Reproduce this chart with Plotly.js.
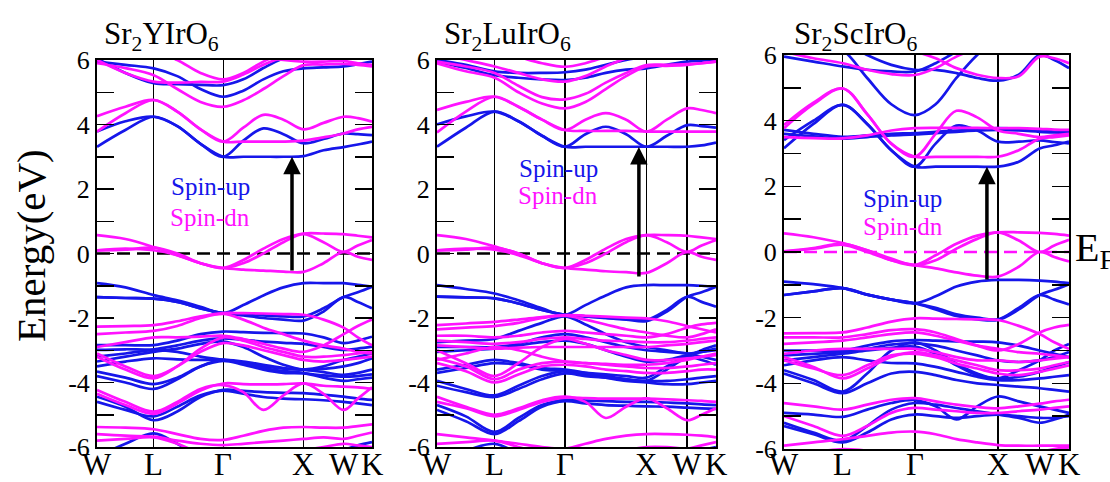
<!DOCTYPE html>
<html>
<head>
<meta charset="utf-8">
<script src="https://cdn.plot.ly/plotly-3.0.1.min.js"></script>
<style>html,body{margin:0;padding:0;background:#fff;}#chart{width:1110px;height:482px;}</style>
</head>
<body>
<div id="chart"></div>
<script>
// k-path W-L-Γ-X-W-K (units of 2π/a, cumulative distance)
const kPts = [0, 0.354, 0.707, 1.0, 1.29, 1.573, 1.823, 2.073, 2.323, 2.573, 2.823, 3.073, 3.25, 3.427];
const kTickVals = [0, 0.707, 1.573, 2.573, 3.073, 3.427];
const kTickText = ['W', 'L', 'Γ', 'X', 'W', 'K'];
const eTickVals = [-6, -4, -2, 0, 2, 4, 6];
const eTickText = ['-6', '-4', '-2', '0', '2', '4', '6'];
const eMinorVals = [-5, -3, -1, 1, 3, 5];
const titles = ['Sr<sub>2</sub>YIrO<sub>6</sub>', 'Sr<sub>2</sub>LuIrO<sub>6</sub>', 'Sr<sub>2</sub>ScIrO<sub>6</sub>'];
const legendUp = 'Spin-up';
const legendDn = 'Spin-dn';
const fermiE = [0, 0];
// arrows: [k, E_from, E_to]
const arrowK = [2.43, 2.48, 2.44];
const arrowFrom = [-0.57, -0.76, -0.88];
const arrowTo = [3.0, 3.3, 2.6];

// ---- Sr2YIrO6 ----
const srY_up = [
  [3.31, 3.83, 4.24, 3.95, 3.4, 3.0, 3.0, 3.0, 3.0, 3.02, 3.2, 3.3, 3.38, 3.47],
  [3.78, 4.1, 4.24, 3.95, 3.4, 3.0, 3.5, 3.88, 3.7, 3.42, 3.55, 3.72, 3.7, 3.67],
  [5.95, 5.85, 5.74, 5.5, 5.1, 4.86, 5.05, 5.4, 5.65, 5.74, 5.77, 5.8, 5.87, 5.95],
  [6.05, 5.6, 5.28, 5.25, 5.23, 5.22, 5.4, 5.75, 6.05, 6.2, 6.2, 6.2, 6.2, 6.2],
  [-0.92, -1.05, -1.29, -1.45, -1.65, -1.85, -1.6, -1.3, -1.05, -0.92, -0.92, -0.92, -0.97, -1.03],
  [-1.35, -1.38, -1.4, -1.5, -1.7, -1.85, -1.92, -2.0, -2.05, -2.08, -1.8, -1.35, -1.5, -1.7],
  [-1.35, -1.38, -1.4, -1.5, -1.7, -1.85, -1.88, -1.92, -1.95, -1.95, -1.7, -1.35, -1.2, -1.03],
  [-2.84, -2.84, -2.84, -2.7, -2.5, -2.42, -2.44, -2.46, -2.47, -2.48, -2.6, -2.78, -2.7, -2.58],
  [-2.99, -2.97, -2.97, -2.85, -2.7, -2.63, -2.68, -2.73, -2.77, -2.8, -2.9, -2.99, -2.95, -2.89],
  [-3.35, -3.2, -3.05, -2.95, -2.8, -2.73, -2.9, -3.2, -3.45, -3.6, -3.58, -3.5, -3.4, -3.25],
  [-3.5, -3.35, -3.25, -3.28, -3.3, -3.3, -3.35, -3.45, -3.55, -3.6, -3.68, -3.76, -3.7, -3.6],
  [-3.66, -3.85, -4.05, -3.85, -3.5, -3.33, -3.45, -3.6, -3.7, -3.72, -3.78, -3.82, -3.8, -3.75],
  [-3.2, -3.1, -3.0, -3.05, -3.2, -3.3, -3.4, -3.5, -3.57, -3.6, -3.5, -3.3, -3.2, -3.1],
  [-3.8, -4.0, -4.2, -3.9, -3.5, -3.3, -3.4, -3.55, -3.65, -3.7, -3.85, -3.95, -3.9, -3.85],
  [-4.44, -4.75, -5.17, -4.9, -4.45, -4.23, -4.26, -4.3, -4.32, -4.33, -4.38, -4.44, -4.5, -4.54],
  [-4.6, -4.85, -5.05, -4.75, -4.4, -4.25, -4.35, -4.45, -4.5, -4.52, -4.55, -4.6, -4.65, -4.7],
  [-6.3, -5.9, -5.58, -5.9, -6.3, -6.5, -6.5, -6.5, -6.5, -6.5, -6.4, -6.1, -5.95, -5.85]
];
const srY_dn = [
  [4.26, 4.55, 4.76, 4.4, 3.85, 3.47, 3.47, 3.47, 3.47, 3.5, 3.6, 3.72, 3.85, 3.93],
  [3.78, 4.35, 4.76, 4.4, 3.85, 3.47, 3.9, 4.3, 4.15, 3.85, 4.05, 4.24, 4.2, 4.09],
  [5.9, 5.75, 5.53, 5.1, 4.7, 4.55, 4.75, 5.1, 5.5, 5.84, 5.86, 5.88, 5.85, 5.8],
  [6.0, 5.6, 5.33, 5.3, 5.32, 5.33, 5.55, 5.85, 6.1, 6.3, 6.3, 6.3, 6.3, 6.3],
  [6.5, 6.4, 6.3, 6.0, 5.6, 5.4, 5.6, 5.95, 6.2, 6.3, 6.3, 6.3, 6.3, 6.3],
  [6.3, 6.3, 6.3, 6.3, 6.3, 6.3, 6.25, 6.1, 6.0, 5.95, 5.95, 5.97, 5.9, 5.85],
  [0.57, 0.45, 0.2, -0.05, -0.3, -0.45, -0.2, 0.15, 0.45, 0.62, 0.62, 0.6, 0.55, 0.5],
  [0.1, 0.15, 0.1, -0.05, -0.3, -0.45, -0.5, -0.53, -0.56, -0.57, -0.3, 0.05, -0.1, -0.2],
  [0.1, 0.12, 0.18, 0.0, -0.3, -0.45, -0.3, 0.0, 0.35, 0.6, 0.35, 0.05, 0.25, 0.42],
  [-2.27, -2.25, -2.22, -2.1, -1.95, -1.85, -1.85, -1.86, -1.88, -1.9, -2.05, -2.3, -2.6, -2.85],
  [-2.5, -2.45, -2.4, -2.25, -2.0, -1.87, -2.05, -2.3, -2.5, -2.7, -2.85, -2.95, -3.05, -3.1],
  [-2.9, -2.75, -2.6, -2.6, -2.58, -2.55, -2.65, -2.8, -2.95, -3.05, -2.85, -2.5, -2.25, -2.05],
  [-3.2, -3.6, -3.87, -3.5, -2.95, -2.6, -2.7, -2.9, -3.05, -3.2, -3.2, -3.15, -3.1, -3.05],
  [-3.1, -3.5, -3.8, -3.5, -3.05, -2.78, -2.85, -3.0, -3.15, -3.3, -3.35, -3.3, -3.25, -3.2],
  [-4.23, -4.6, -4.9, -4.6, -4.2, -4.08, -4.3, -4.85, -4.4, -4.03, -4.35, -4.85, -4.5, -4.15],
  [-4.35, -4.7, -4.97, -4.65, -4.25, -4.03, -4.05, -4.06, -4.05, -4.03, -4.1, -4.13, -4.15, -4.2],
  [-5.38, -5.4, -5.45, -5.6, -5.75, -5.78, -5.65, -5.5, -5.4, -5.38, -5.4, -5.4, -5.35, -5.3],
  [-5.6, -5.65, -5.68, -5.8, -5.9, -5.94, -5.9, -5.85, -5.8, -5.75, -5.7, -5.75, -5.65, -5.55],
  [-5.8, -5.75, -5.7, -5.9, -6.2, -6.4, -6.4, -6.3, -6.2, -6.1, -6.0, -5.9, -5.95, -6.0]
];

// ---- Sr2LuIrO6 ----
const srLu_up = [
  [3.31, 3.9, 4.4, 4.1, 3.65, 3.31, 3.31, 3.31, 3.31, 3.31, 3.31, 3.31, 3.35, 3.44],
  [4.0, 4.25, 4.4, 4.1, 3.65, 3.31, 3.7, 3.93, 3.7, 3.31, 3.65, 3.98, 3.95, 3.9],
  [5.95, 5.75, 5.53, 5.45, 5.4, 5.38, 5.45, 5.6, 5.7, 5.74, 5.85, 5.95, 5.98, 6.0],
  [6.0, 5.85, 5.65, 5.6, 5.6, 5.62, 5.7, 5.85, 6.0, 6.1, 6.1, 6.1, 6.1, 6.1],
  [-0.98, -1.1, -1.24, -1.45, -1.7, -1.9, -1.6, -1.3, -1.05, -0.98, -0.98, -0.98, -1.0, -1.03],
  [-1.34, -1.36, -1.39, -1.55, -1.75, -1.9, -1.95, -2.0, -2.03, -2.06, -1.75, -1.34, -1.5, -1.65],
  [-1.34, -1.36, -1.39, -1.55, -1.75, -1.9, -1.95, -2.0, -2.05, -2.1, -1.8, -1.34, -1.2, -1.03],
  [-2.75, -2.7, -2.65, -2.4, -2.15, -1.95, -2.2, -2.5, -2.75, -2.9, -3.0, -3.1, -3.05, -3.0],
  [-2.9, -2.9, -2.9, -2.8, -2.6, -2.5, -2.6, -2.75, -2.9, -3.0, -3.05, -3.1, -3.2, -3.3],
  [-3.05, -3.0, -2.95, -2.85, -2.75, -2.7, -2.8, -3.0, -3.2, -3.35, -3.3, -3.15, -3.05, -2.95],
  [-3.6, -3.45, -3.3, -3.4, -3.55, -3.6, -3.7, -3.8, -3.9, -3.95, -3.95, -3.9, -3.85, -3.8],
  [-3.7, -3.55, -3.4, -3.45, -3.6, -3.65, -3.75, -3.85, -3.95, -4.0, -4.05, -4.05, -4.0, -3.95],
  [-3.95, -4.2, -4.4, -4.1, -3.8, -3.65, -3.7, -3.75, -3.8, -3.85, -3.5, -3.2, -3.3, -3.45],
  [-4.1, -4.3, -4.45, -4.2, -3.9, -3.72, -3.8, -3.85, -3.9, -3.95, -3.6, -3.2, -3.0, -2.85],
  [-4.7, -5.05, -5.53, -5.1, -4.7, -4.54, -4.56, -4.58, -4.6, -4.6, -4.62, -4.65, -4.68, -4.7],
  [-4.85, -5.2, -5.6, -5.2, -4.75, -4.58, -4.65, -4.7, -4.72, -4.74, -4.75, -4.78, -4.8, -4.82],
  [-6.3, -6.1, -5.9, -6.2, -6.5, -6.5, -6.5, -6.5, -6.5, -6.5, -6.4, -6.2, -6.1, -6.0]
];
const srLu_dn = [
  [4.45, 4.7, 4.86, 4.55, 4.15, 3.83, 3.8, 3.8, 3.8, 3.78, 3.78, 3.78, 3.78, 3.78],
  [3.75, 4.4, 4.86, 4.55, 4.15, 3.83, 4.15, 4.35, 4.15, 3.78, 4.15, 4.5, 4.45, 4.35],
  [5.95, 5.8, 5.6, 5.2, 4.85, 4.78, 4.95, 5.3, 5.6, 5.84, 5.85, 5.87, 5.9, 5.95],
  [5.9, 5.65, 5.45, 5.0, 4.65, 4.5, 4.7, 5.1, 5.5, 5.8, 5.82, 5.85, 5.9, 5.95],
  [6.2, 6.0, 5.8, 5.6, 5.4, 5.33, 5.5, 5.8, 6.05, 6.2, 6.2, 6.2, 6.2, 6.2],
  [6.5, 6.4, 6.3, 6.1, 5.9, 5.79, 5.9, 6.1, 6.3, 6.4, 6.4, 6.4, 6.4, 6.4],
  [0.57, 0.45, 0.22, 0.0, -0.3, -0.45, -0.2, 0.15, 0.45, 0.57, 0.57, 0.55, 0.5, 0.45],
  [0.1, 0.15, 0.12, -0.05, -0.3, -0.45, -0.5, -0.55, -0.58, -0.6, -0.3, 0.05, -0.1, -0.2],
  [0.1, 0.12, 0.18, 0.0, -0.3, -0.45, -0.3, 0.0, 0.35, 0.57, 0.35, 0.05, 0.25, 0.42],
  [-2.22, -2.17, -2.12, -2.05, -1.97, -1.91, -1.93, -1.96, -1.99, -2.01, -2.1, -2.25, -2.35, -2.45],
  [-2.35, -2.3, -2.25, -2.15, -2.0, -1.93, -2.05, -2.2, -2.35, -2.45, -2.55, -2.6, -2.5, -2.35],
  [-2.55, -2.55, -2.6, -2.55, -2.45, -2.4, -2.45, -2.5, -2.55, -2.6, -2.5, -2.3, -2.2, -2.15],
  [-2.7, -2.75, -2.8, -2.75, -2.65, -2.6, -2.65, -2.7, -2.72, -2.75, -2.75, -2.7, -2.65, -2.6],
  [-2.85, -2.9, -2.95, -2.92, -2.9, -2.9, -2.9, -2.9, -2.9, -2.9, -2.85, -2.8, -2.75, -2.7],
  [-3.3, -3.1, -2.9, -3.0, -3.2, -3.35, -3.4, -3.42, -3.45, -3.45, -3.4, -3.3, -3.2, -3.1],
  [-3.25, -3.5, -3.9, -3.6, -3.4, -3.35, -3.4, -3.45, -3.5, -3.55, -3.55, -3.5, -3.45, -3.4],
  [-3.4, -3.65, -4.0, -3.75, -3.5, -3.45, -3.5, -3.6, -3.65, -3.7, -3.7, -3.65, -3.6, -3.6],
  [-3.0, -3.4, -3.8, -3.4, -2.9, -2.65, -2.8, -3.0, -3.15, -3.3, -3.3, -3.25, -3.2, -3.15],
  [-4.44, -4.75, -5.0, -4.8, -4.55, -4.44, -4.6, -5.1, -4.75, -4.49, -4.8, -5.17, -5.0, -4.8],
  [-4.6, -4.8, -5.05, -4.85, -4.6, -4.47, -4.48, -4.5, -4.5, -4.5, -4.52, -4.55, -4.57, -4.6],
  [-5.6, -5.7, -5.8, -5.9, -6.0, -6.05, -5.9, -5.75, -5.65, -5.6, -5.6, -5.62, -5.65, -5.7],
  [-5.9, -5.85, -5.8, -6.0, -6.2, -6.3, -6.3, -6.2, -6.1, -6.0, -6.0, -6.05, -5.95, -5.85]
];

// ---- Sr2ScIrO6 ----
const srSc_up = [
  [3.16, 3.9, 4.48, 3.9, 3.1, 2.6, 2.6, 2.6, 2.6, 2.6, 2.75, 3.15, 3.25, 3.36],
  [3.41, 4.0, 4.48, 3.9, 3.1, 2.6, 3.3, 3.85, 3.7, 3.36, 3.36, 3.4, 3.35, 3.31],
  [3.72, 3.6, 3.51, 3.55, 3.6, 3.62, 3.66, 3.7, 3.73, 3.77, 3.75, 3.72, 3.7, 3.68],
  [3.6, 3.52, 3.45, 3.5, 3.55, 3.58, 3.62, 3.66, 3.7, 3.72, 3.7, 3.66, 3.64, 3.62],
  [5.95, 5.8, 5.65, 5.55, 5.5, 5.5, 5.75, 6.1, 6.4, 6.5, 6.5, 6.5, 6.3, 6.1],
  [6.8, 6.5, 6.15, 5.3, 4.5, 4.17, 4.5, 5.3, 6.0, 6.5, 6.5, 6.5, 6.4, 6.2],
  [6.4, 6.4, 6.4, 6.0, 5.7, 5.55, 5.55, 5.45, 5.3, 5.22, 5.4, 6.0, 5.85, 5.6],
  [-0.9, -0.98, -1.1, -1.3, -1.45, -1.56, -1.35, -1.05, -0.9, -0.85, -0.85, -0.87, -0.9, -0.95],
  [-1.31, -1.2, -1.1, -1.3, -1.45, -1.56, -1.75, -1.95, -2.05, -2.07, -1.75, -1.31, -1.15, -0.98],
  [-1.31, -1.2, -1.1, -1.3, -1.45, -1.56, -1.7, -1.9, -2.0, -2.05, -1.7, -1.31, -1.45, -1.6],
  [-3.0, -3.0, -3.0, -2.85, -2.72, -2.68, -2.7, -2.72, -2.73, -2.75, -2.85, -3.0, -3.1, -3.2],
  [-3.15, -3.1, -3.05, -2.95, -2.82, -2.78, -2.85, -3.0, -3.15, -3.3, -3.35, -3.3, -3.2, -3.05],
  [-3.3, -3.2, -3.1, -3.0, -2.92, -2.88, -3.1, -3.45, -3.75, -3.85, -3.8, -3.65, -3.5, -3.35],
  [-3.45, -3.3, -3.2, -3.3, -3.38, -3.39, -3.5, -3.65, -3.8, -3.9, -3.9, -3.85, -3.8, -3.75],
  [-3.6, -3.9, -4.25, -3.7, -3.0, -2.75, -3.0, -3.4, -3.7, -3.85, -3.6, -3.3, -3.0, -2.8],
  [-3.7, -4.0, -4.3, -4.0, -3.7, -3.65, -3.75, -3.9, -4.0, -4.05, -4.1, -4.15, -4.2, -4.25],
  [-4.9, -4.95, -5.02, -4.8, -4.6, -4.51, -4.7, -5.1, -4.7, -4.4, -4.55, -4.7, -4.8, -4.9],
  [-5.2, -5.5, -5.75, -5.3, -4.8, -4.6, -4.65, -4.75, -4.85, -4.95, -5.05, -5.2, -5.1, -4.95],
  [-5.3, -5.55, -5.8, -5.5, -5.1, -4.95, -5.0, -5.05, -5.0, -4.95, -5.0, -5.05, -5.05, -5.0]
];
const srSc_dn = [
  [3.77, 4.5, 4.98, 4.2, 3.3, 2.9, 2.9, 2.9, 2.9, 2.9, 3.1, 3.45, 3.5, 3.55],
  [3.87, 4.55, 4.98, 4.2, 3.3, 2.9, 3.6, 4.3, 4.1, 3.7, 3.6, 3.5, 3.55, 3.6],
  [3.5, 3.47, 3.46, 3.55, 3.7, 3.77, 3.78, 3.78, 3.78, 3.77, 3.77, 3.75, 3.73, 3.72],
  [6.1, 5.9, 5.75, 5.55, 5.42, 5.39, 5.6, 5.95, 6.2, 6.3, 6.3, 6.3, 6.3, 6.3],
  [6.3, 6.3, 6.3, 6.3, 6.2, 6.1, 5.9, 5.6, 5.4, 5.3, 5.35, 5.95, 5.9, 5.75],
  [0.57, 0.45, 0.27, 0.05, -0.25, -0.4, -0.1, 0.25, 0.5, 0.6, 0.6, 0.58, 0.55, 0.5],
  [0.02, 0.1, 0.22, 0.0, -0.25, -0.4, -0.5, -0.62, -0.72, -0.75, -0.45, 0.0, -0.15, -0.29],
  [0.02, 0.12, 0.25, 0.05, -0.2, -0.4, -0.25, 0.1, 0.4, 0.6, 0.35, 0.0, 0.2, 0.37],
  [-2.48, -2.47, -2.45, -2.3, -2.12, -2.02, -2.03, -2.04, -2.05, -2.07, -2.25, -2.5, -2.75, -2.95],
  [-2.6, -2.6, -2.6, -2.5, -2.38, -2.35, -2.45, -2.65, -2.85, -3.0, -2.8, -2.45, -2.3, -2.22],
  [-2.8, -2.75, -2.7, -2.6, -2.5, -2.45, -2.55, -2.7, -2.85, -2.95, -3.05, -3.1, -3.15, -3.2],
  [-3.1, -3.0, -2.95, -2.95, -2.95, -2.95, -3.05, -3.2, -3.3, -3.3, -3.35, -3.3, -3.25, -3.2],
  [-3.2, -3.5, -3.85, -3.55, -3.2, -3.05, -3.15, -3.3, -3.45, -3.6, -3.6, -3.55, -3.45, -3.35],
  [-3.3, -3.55, -3.75, -3.45, -3.15, -3.1, -3.2, -3.4, -3.55, -3.7, -3.75, -3.65, -3.55, -3.45],
  [-4.6, -4.7, -4.8, -4.65, -4.5, -4.45, -4.55, -4.65, -4.72, -4.76, -4.7, -4.62, -4.55, -4.5],
  [-5.0, -5.3, -5.6, -5.3, -4.9, -4.75, -4.8, -4.85, -4.9, -4.9, -4.85, -4.8, -4.75, -4.7],
  [-5.9, -5.8, -5.7, -5.6, -5.5, -5.47, -5.55, -5.7, -5.8, -5.88, -5.9, -5.9, -5.9, -5.9],
  [-6.2, -6.1, -6.0, -6.05, -6.1, -6.1, -6.2, -6.3, -6.3, -6.3, -6.2, -6.1, -6.0, -5.95]
];

const BLUE = '#1616ea';
const MAG = '#ff12ff';
const SERIF = 'Liberation Serif, Times New Roman, serif';
const W = 1110, H = 482;
const px = v => v / W, py = v => 1 - v / H;

const panels = [
  {up: srY_up, dn: srY_dn, x0: 97, x1: 372, y0: 60, y1: 447, fermiColor: 'black', title: titles[0], tx: 102,
   legK: 1.41, legUpE: 2.09, legDnE: 1.13},
  {up: srLu_up, dn: srLu_dn, x0: 437, x1: 716, y0: 60, y1: 447, fermiColor: 'black', title: titles[1], tx: 442,
   legK: 1.49, legUpE: 2.65, legDnE: 1.81},
  {up: srSc_up, dn: srSc_dn, x0: 784, x1: 1069, y0: 55, y1: 449, fermiColor: MAG, title: titles[2], tx: 792,
   legK: 1.43, legUpE: 1.64, legDnE: 0.79}
];

const traces = [];
const layout = {
  width: W, height: H, margin: {l: 0, r: 0, t: 0, b: 0},
  paper_bgcolor: '#fff', plot_bgcolor: '#fff', showlegend: false,
  font: {family: SERIF, color: '#000'},
  annotations: [], hovermode: false
};

panels.forEach((p, i) => {
  const n = i === 0 ? '' : String(i + 1);
  const xa = 'x' + n, ya = 'y' + n;
  traces.push({x: [kPts[0], kPts[kPts.length - 1]], y: fermiE, xaxis: xa, yaxis: ya, mode: 'lines',
    line: {color: p.fermiColor, width: 2.6, dash: '13px,7px'}});
  p.up.forEach(e => traces.push({x: kPts, y: e, xaxis: xa, yaxis: ya, mode: 'lines',
    line: {color: BLUE, width: 2.7, shape: 'spline', smoothing: 1}}));
  p.dn.forEach(e => traces.push({x: kPts, y: e, xaxis: xa, yaxis: ya, mode: 'lines',
    line: {color: MAG, width: 2.7, shape: 'spline', smoothing: 1}}));
  layout['xaxis' + n] = {
    domain: [px(p.x0), px(p.x1)], anchor: ya, range: [kPts[0], kPts[kPts.length - 1]],
    tickmode: 'array', tickvals: kTickVals, ticktext: kTickText, ticks: '', showticklabels: false,
    showgrid: true, gridcolor: '#000', gridwidth: 1.4, zeroline: false,
    showline: true, linecolor: '#000', linewidth: 2, mirror: true
  };
  layout['yaxis' + n] = {
    domain: [py(p.y1), py(p.y0)], anchor: xa, range: [-6, 6],
    tickmode: 'array', tickvals: eTickVals, ticktext: eTickText,
    ticks: 'inside', ticklen: 17, tickwidth: 1.5, tickcolor: '#000',
    minor: {tickmode: 'array', tickvals: eMinorVals, ticks: 'inside', ticklen: 17, tickwidth: 1.5, tickcolor: '#000', showgrid: false},
    showgrid: false, zeroline: false,
    showline: true, linecolor: '#000', linewidth: 2, mirror: 'ticks',
    tickfont: {family: SERIF, size: 26, color: '#000'}
  };
  kTickVals.forEach((kv, j) => layout.annotations.push({xref: xa, yref: 'paper', x: kv, y: py(464),
    xanchor: 'center', yanchor: 'middle', text: kTickText[j], showarrow: false,
    font: {family: SERIF, size: 31, color: '#000'}}));
  layout.annotations.push({xref: 'paper', yref: 'paper', x: px(p.tx), y: py(36), xanchor: 'left', yanchor: 'middle',
    text: p.title, showarrow: false, font: {family: SERIF, size: 31, color: '#000'}});
  layout.annotations.push({xref: xa, yref: ya, x: p.legK, y: p.legUpE, text: legendUp, showarrow: false,
    font: {family: SERIF, size: 25, color: BLUE}});
  layout.annotations.push({xref: xa, yref: ya, x: p.legK, y: p.legDnE, text: legendDn, showarrow: false,
    font: {family: SERIF, size: 25, color: MAG}});
  layout.annotations.push({xref: xa, yref: ya, axref: xa, ayref: ya, x: arrowK[i], y: arrowTo[i],
    ax: arrowK[i], ay: arrowFrom[i], text: '', showarrow: true, arrowhead: 2, arrowsize: 1,
    arrowwidth: 3.5, arrowcolor: '#000'});
});

layout.annotations.push({xref: 'paper', yref: 'paper', x: px(31), y: py(246), xanchor: 'center', yanchor: 'middle',
  text: 'Energy(eV)', textangle: -90, showarrow: false, font: {family: SERIF, size: 41, color: '#000'}});
layout.annotations.push({xref: 'paper', yref: 'paper', x: px(1073), y: py(250), xanchor: 'left', yanchor: 'middle',
  text: 'E<sub>F</sub>', showarrow: false, font: {family: SERIF, size: 40, color: '#000'}});

Plotly.newPlot('chart', traces, layout, {staticPlot: true, displayModeBar: false});
</script>
</body>
</html>
